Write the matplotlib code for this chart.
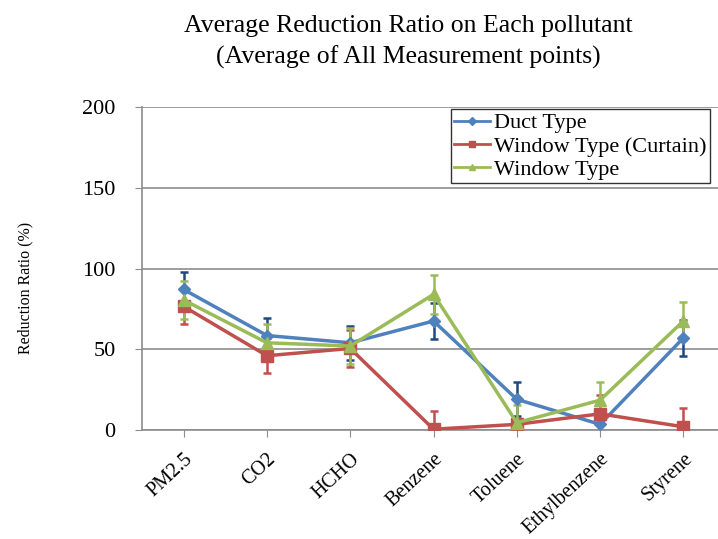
import matplotlib

matplotlib.use("Agg")
import matplotlib.pyplot as plt
import numpy as np

categories = ["PM2.5", "CO2", "HCHO", "Benzene", "Toluene", "Ethylbenzene", "Styrene"]

duct = [87, 58.5, 54, 67.5, 19, 3.5, 57]
duct_err = [10.7, 10.7, 10.5, 11, 10.5, 8, 11]

curtain = [76.5, 46, 50.5, 0.5, 3.5, 10, 2]
curtain_err = [11, 11, 11.5, 11.5, 4, 11.5, 11.8]

window = [80.5, 54, 52, 84, 4.5, 18.5, 67.5]
window_err = [11.5, 11.5, 11, 12, 11, 11, 11.6]

series = [
    ("Duct Type", duct, duct_err, "#4F81BD", "#1F497D", "D", 6),
    ("Window Type (Curtain)", curtain, curtain_err, "#C0504D", "#C0504D", "s", 8),
    ("Window Type", window, window_err, "#9BBB59", "#9BBB59", "^", 8),
]

plt.rcParams["font.family"] = ["Liberation Serif", "DejaVu Serif"]

fig = plt.figure(figsize=(7.18, 5.39), dpi=100)
ax = fig.add_axes([0.1978, 0.2022, 0.812, 0.5993])

x = np.arange(len(categories))
for label, vals, err, col, ecol, mk, ms in series:
    ax.errorbar(x, vals, yerr=err, fmt="none", ecolor=ecol, elinewidth=1.8,
                capsize=3, capthick=1.8, zorder=2)
    ax.plot(x, vals, color=col, lw=2.5, marker=mk, markersize=ms,
            label=label, zorder=3)

ax.set_xlim(-0.5, len(categories) - 0.5)
ax.set_ylim(0, 200)
ax.set_yticks([0, 50, 100, 150, 200])
ax.yaxis.grid(True, color="#8c8c8c", lw=1.2)
ax.set_axisbelow(True)
ax.set_xticks(x)
ax.set_xticklabels(categories, rotation=43, ha="right", rotation_mode="anchor",
                   fontsize=14.5)
ax.tick_params(axis="y", labelsize=16, length=5, pad=14, color="#8c8c8c")
ax.tick_params(axis="x", length=5, pad=9, color="#8c8c8c")
for side in ["top", "right"]:
    ax.spines[side].set_visible(False)
for side in ["left", "bottom"]:
    ax.spines[side].set_color("#8c8c8c")
    ax.spines[side].set_linewidth(1.2)

fig.text(0.035, 0.466, "Reduction Ratio (%)", rotation=90, ha="center",
         va="center", fontsize=11.5)
fig.text(0.568, 0.972, "Average Reduction Ratio on Each pollutant\n"
         "(Average of All Measurement points)", ha="center", va="top",
         fontsize=18.5, linespacing=1.45)

leg = ax.legend(loc="upper left", bbox_to_anchor=(0.628, 0.797),
                bbox_transform=fig.transFigure, fontsize=16, frameon=True,
                fancybox=False, borderpad=0.15, labelspacing=0.12,
                handlelength=1.6, handletextpad=0.2, borderaxespad=0)
leg.get_frame().set_edgecolor("black")
leg.get_frame().set_linewidth(1.0)
for h in leg.legend_handles:
    h.set_markersize(4)
    h.set_linewidth(2)

fig.savefig("out.png", dpi=100)
